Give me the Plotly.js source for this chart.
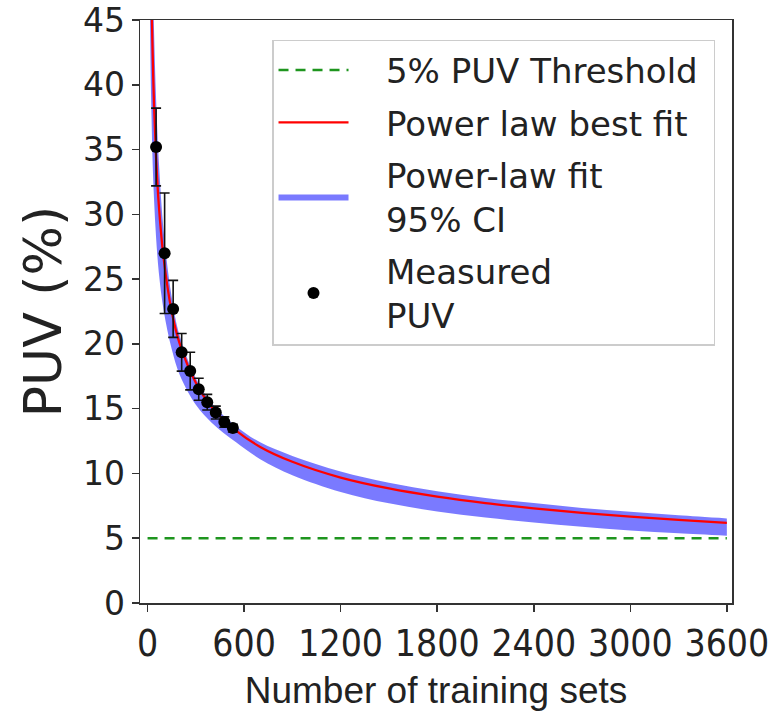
<!DOCTYPE html>
<html>
<head>
<meta charset="utf-8">
<script src="https://cdn.plot.ly/plotly-3.0.1.min.js"></script>
<style>html,body{margin:0;padding:0;background:#fff;}#chart{width:783px;height:711px;}</style>
</head>
<body>
<div id="chart"></div>
<script>
// Measured PUV points
const trainSets = [53, 106, 159, 212, 265, 318, 371, 424, 477, 530];
const puv = [35.2, 27.0, 22.7, 19.35, 17.9, 16.5, 15.5, 14.7, 13.97, 13.5];
const puvErr = [3.0, 4.65, 2.2, 1.45, 1.45, 0.85, 0.6, 0.5, 0.4, 0.3];

// Power-law fit curve and its 95% CI band
const curveX = [15, 20, 25, 30, 40, 53, 70, 100, 150, 200, 300, 400, 550, 700, 900, 1200, 1500, 1800, 2100, 2400, 2700, 3000, 3300, 3600];
const fitY = [57.4, 51.0, 46.6, 43.3, 38.5, 34.4, 30.7, 26.6, 22.5, 20.0, 17.0, 15.1, 13.3, 12.05, 10.9, 9.68, 8.84, 8.21, 7.71, 7.31, 6.96, 6.67, 6.42, 6.19];
const ciUpper = [67.0, 59.7, 54.0, 50.2, 44.3, 38.9, 34.1, 28.7, 23.6, 20.6, 17.35, 15.4, 13.65, 12.4, 11.35, 10.15, 9.28, 8.62, 8.1, 7.71, 7.34, 7.04, 6.77, 6.53];
const ciLower = [45.3, 40.3, 37.3, 34.6, 31.2, 28.2, 25.5, 22.6, 19.6, 17.6, 15.3, 13.9, 12.4, 11.1, 9.86, 8.57, 7.69, 7.06, 6.59, 6.21, 5.88, 5.6, 5.39, 5.2];

// Threshold line
const thresholdX = [0, 3600];
const thresholdY = [5, 5];

// Axis ticks
const xTicks = [0, 600, 1200, 1800, 2400, 3000, 3600];
const yTicks = [0, 5, 10, 15, 20, 25, 30, 35, 40, 45];

// Legend labels
const pad = '\u00a0\u00a0\u00a0';
const labThreshold = pad + '5% PUV Threshold\u00a0';
const labFit = pad + 'Power law best fit';
const labCI = pad + 'Power-law fit<br>' + pad + '95% CI';
const labPUV = pad + 'Measured<br>' + pad + 'PUV';

const txt = '#222222';
const traces = [
  {x: curveX, y: ciLower, mode: 'lines', line: {width: 0, shape: 'spline'}, showlegend: false,
   hoverinfo: 'skip', legendgroup: 'ci'},
  {x: curveX, y: ciUpper, mode: 'lines', line: {width: 0, shape: 'spline'}, fill: 'tonexty',
   fillcolor: 'rgba(0,0,255,0.52)', name: labCI, legendrank: 3, legendgroup: 'ci'},
  {x: curveX, y: fitY, mode: 'lines', line: {color: '#ff0000', width: 2.3, shape: 'spline'},
   name: labFit, legendrank: 2, legendgroup: 'fit'},
  {x: thresholdX, y: thresholdY, mode: 'lines', line: {color: '#1e951e', width: 2.5, dash: '10px,7px'},
   name: labThreshold, legendrank: 1, legendgroup: 'thr'},
  {x: trainSets, y: puv, mode: 'markers', marker: {color: '#000', size: 12},
   error_y: {type: 'data', array: puvErr, visible: true, color: '#111', thickness: 1.6, width: 5},
   name: labPUV, legendrank: 4, legendgroup: 'pts'}
];

const layout = {
  width: 783, height: 711,
  margin: {l: 140, r: 51, t: 20, b: 108},
  paper_bgcolor: '#fff', plot_bgcolor: '#fff',
  showlegend: true,
  legend: {
    x: 0.223, y: 0.9657, xanchor: 'left', yanchor: 'top',
    bgcolor: '#fff', bordercolor: '#cccccc', borderwidth: 1.5,
    font: {family: 'DejaVu Sans', size: 34, color: txt},
    itemwidth: 70, traceorder: 'grouped', tracegroupgap: 5
  },
  xaxis: {
    range: [-47, 3632], tickvals: xTicks, ticktext: xTicks.map(String),
    ticks: 'outside', ticklen: 7, tickwidth: 1.5, tickcolor: '#333',
    showline: true, mirror: true, linecolor: '#333', linewidth: 1.5,
    showgrid: false, zeroline: false,
    tickfont: {family: 'DejaVu Sans Condensed, DejaVu Sans', size: 37, color: txt},
    title: {text: 'Number of training sets', standoff: 16,
            font: {family: 'Liberation Sans, Arial', size: 37, color: txt}}
  },
  yaxis: {
    range: [0, 45], tickvals: yTicks,
    ticks: 'outside', ticklen: 7, tickwidth: 1.5, tickcolor: '#333',
    showline: true, mirror: true, linecolor: '#333', linewidth: 1.5,
    showgrid: false, zeroline: false,
    tickfont: {family: 'DejaVu Sans', size: 33, color: txt},
    title: {text: 'PUV (%)', standoff: 4,
            font: {family: 'DejaVu Sans', size: 52, color: txt}}
  }
};

Plotly.newPlot('chart', traces, layout, {displayModeBar: false, staticPlot: true});
</script>
</body>
</html>
